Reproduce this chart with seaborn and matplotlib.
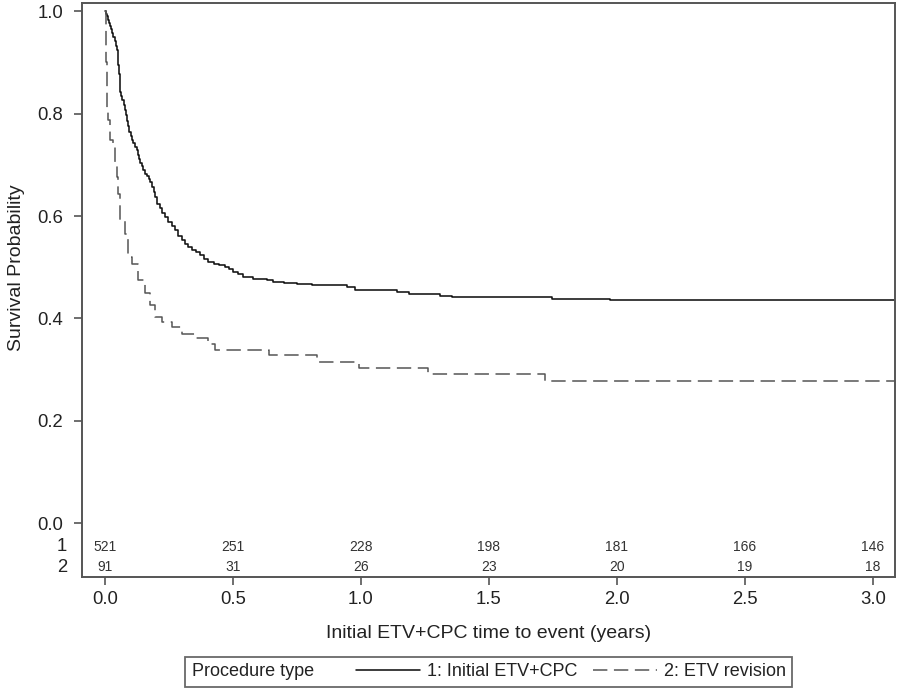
import numpy as np
import pandas as pd
import matplotlib
matplotlib.use("Agg")
import matplotlib.pyplot as plt
import seaborn as sns
from matplotlib.lines import Line2D
from matplotlib.offsetbox import HPacker

# ---- data ----
t_initial = [0.000, 0.004, 0.007, 0.012, 0.016, 0.020, 0.025, 0.029, 0.033, 0.038,
             0.042, 0.046, 0.049, 0.052, 0.055, 0.057, 0.059, 0.063, 0.068, 0.073,
             0.078, 0.082, 0.087, 0.091, 0.095, 0.100, 0.104, 0.110, 0.117, 0.124,
             0.128, 0.133, 0.137, 0.143, 0.150, 0.156, 0.163, 0.170, 0.176, 0.183,
             0.190, 0.196, 0.202, 0.213, 0.224, 0.235, 0.248, 0.261, 0.274, 0.287,
             0.300, 0.313, 0.326, 0.339, 0.355, 0.372, 0.388, 0.404, 0.425, 0.447,
             0.469, 0.485, 0.502, 0.521, 0.541, 0.580, 0.632, 0.658, 0.700, 0.750,
             0.810, 0.867, 0.945, 0.978, 1.141, 1.186, 1.310, 1.356, 1.747, 1.975,
             3.090]
s_initial = [1.000, 0.995, 0.990, 0.983, 0.978, 0.972, 0.965, 0.958, 0.950, 0.942,
             0.933, 0.924, 0.910, 0.895, 0.878, 0.860, 0.843, 0.835, 0.826, 0.817,
             0.807, 0.797, 0.786, 0.775, 0.765, 0.756, 0.748, 0.742, 0.735, 0.729,
             0.720, 0.711, 0.703, 0.697, 0.690, 0.683, 0.678, 0.672, 0.667, 0.657,
             0.647, 0.637, 0.624, 0.615, 0.606, 0.598, 0.589, 0.580, 0.572, 0.562,
             0.553, 0.546, 0.539, 0.533, 0.529, 0.524, 0.517, 0.510, 0.507, 0.504,
             0.501, 0.496, 0.491, 0.486, 0.481, 0.478, 0.476, 0.472, 0.470, 0.468,
             0.466, 0.465, 0.461, 0.455, 0.452, 0.447, 0.444, 0.442, 0.439, 0.437,
             0.437]

t_revision = [0.0, 0.002, 0.004, 0.006, 0.008, 0.013, 0.02, 0.033, 0.039, 0.046,
              0.052, 0.059, 0.078, 0.091, 0.104, 0.13, 0.156, 0.176, 0.196, 0.222,
              0.261, 0.30, 0.352, 0.404, 0.43, 0.639, 0.828, 0.993, 1.264, 1.72, 3.09]
s_revision = [1.0, 0.95, 0.90, 0.85, 0.807, 0.787, 0.748, 0.742, 0.703, 0.676,
              0.644, 0.592, 0.566, 0.520, 0.507, 0.475, 0.449, 0.426, 0.403, 0.393,
              0.383, 0.370, 0.361, 0.351, 0.339, 0.328, 0.315, 0.303, 0.292, 0.278, 0.278]

risk_times = [0.0, 0.5, 1.0, 1.5, 2.0, 2.5, 3.0]
risk_initial = [521, 251, 228, 198, 181, 166, 146]
risk_revision = [91, 31, 26, 23, 20, 19, 18]

group_labels = ["1: Initial ETV+CPC", "2: ETV revision"]
legend_title = "Procedure type"
x_label = "Initial ETV+CPC time to event (years)"
y_label = "Survival Probability"
y_ticks = [0.0, 0.2, 0.4, 0.6, 0.8, 1.0]
x_ticks = [0.0, 0.5, 1.0, 1.5, 2.0, 2.5, 3.0]

# ---- style ----
sns.set_theme(style="ticks")
plt.rcParams["font.family"] = ["Liberation Sans", "DejaVu Sans"]
plt.rcParams["text.color"] = "#222222"
plt.rcParams["axes.labelcolor"] = "#222222"
plt.rcParams["xtick.color"] = "#555555"
plt.rcParams["ytick.color"] = "#555555"
plt.rcParams["xtick.labelcolor"] = "#222222"
plt.rcParams["ytick.labelcolor"] = "#222222"

fig = plt.figure(figsize=(9, 6.89), dpi=100)
ax = fig.add_axes([0.0911, 0.1621, 0.9033, 0.8331])

df1 = pd.DataFrame({"time": t_initial, "surv": s_initial})
df2 = pd.DataFrame({"time": t_revision, "surv": s_revision})

solid_color = "#111111"
dash_color = "#555555"
dash = (0, (9.4, 4.3))
sns.lineplot(data=df1, x="time", y="surv", ax=ax, drawstyle="steps-post",
             color=solid_color, linewidth=1.15, estimator=None, sort=True)
sns.lineplot(data=df2, x="time", y="surv", ax=ax, drawstyle="steps-post",
             color=dash_color, linewidth=1.1, linestyle=dash, estimator=None, sort=True)

ax.set_xlim(-0.09, 3.087)
ax.set_ylim(-0.1055, 1.0156)
ax.set_yticks(y_ticks)
ax.set_yticklabels([f"{v:.1f}" for v in y_ticks])
ax.set_xticks(x_ticks)
ax.set_xticklabels([f"{v:.1f}" for v in x_ticks])
ax.tick_params(axis="both", labelsize=13.3, length=6, width=1.2, direction="out")
ax.tick_params(axis="y", pad=7.5)
ax.tick_params(axis="x", pad=4)
ax.set_xlabel(x_label, fontsize=14, labelpad=12)
ax.set_ylabel(y_label, fontsize=14)
ax.yaxis.set_label_coords(-0.070, 0.54)
for sp in ax.spines.values():
    sp.set_visible(True)
    sp.set_color("#555555")
    sp.set_linewidth(1.4)

# number at risk rows
row_y = [-0.0457, -0.0854]
for rows, yv, lab in zip([risk_initial, risk_revision], row_y, ["1", "2"]):
    for tx, n in zip(risk_times, rows):
        ax.text(tx, yv, str(n), ha="center", va="center", fontsize=10, color="#333333")
    ax.text(-0.018, yv, lab, ha="right", va="center", fontsize=13.3,
            color="#222222", transform=ax.get_yaxis_transform())

# legend (title inline on the left)
leg_fs = 13.0
handles = [Line2D([], [], color=solid_color, linewidth=1.15),
           Line2D([], [], color=dash_color, linewidth=1.1, linestyle=dash)]
leg = fig.legend(handles, group_labels, ncol=2, title=legend_title,
                 loc="center", bbox_to_anchor=(0.543, 0.0247), frameon=True,
                 fancybox=False, fontsize=leg_fs, title_fontsize=leg_fs,
                 handlelength=3.5, handletextpad=0.4, columnspacing=0.9,
                 borderpad=0.25, edgecolor="#444444")
leg.get_frame().set_linewidth(1.3)
try:
    fs_px = leg_fs * 100 / 72
    newbox = HPacker(pad=leg.borderpad * fs_px, sep=1.7 * fs_px, align="center",
                     children=[leg._legend_title_box, leg._legend_handle_box])
    newbox.set_figure(fig)
    newbox.axes = leg.axes
    leg._legend_box = newbox
    newbox.set_offset(leg._findoffset)
except Exception:
    pass

fig.savefig("out.png", dpi=100)
